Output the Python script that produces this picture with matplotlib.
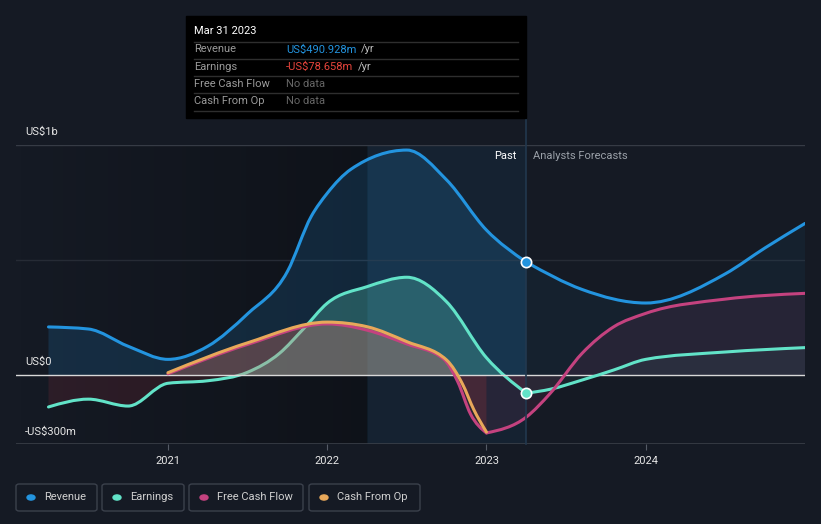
import matplotlib
matplotlib.use("Agg")
import matplotlib.pyplot as plt
import numpy as np
from matplotlib.patches import FancyBboxPatch, Rectangle, Circle, PathPatch
from matplotlib.path import Path
from matplotlib.lines import Line2D

plt.rcParams["font.family"] = ["Roboto", "DejaVu Sans"]

# ---- data (US$ millions) ----
rev_past_x = [2020.25, 2020.5, 2020.75, 2021.0, 2021.25, 2021.5, 2021.75, 2021.9, 2022.0,
              2022.15, 2022.5, 2022.75, 2023.0, 2023.25]
rev_past_y = [209, 200, 125, 68, 125, 266, 450, 690, 790,
              895, 978, 848, 630, 491]
rev_fc_x = [2023.25, 2023.6, 2024.0, 2024.5, 2024.75, 2025.0]
rev_fc_y = [491, 372, 313, 440, 553, 659]

earn_past_x = [2020.25, 2020.5, 2020.75, 2021.0, 2021.25, 2021.5, 2021.7, 2021.85, 2022.0,
               2022.25, 2022.5, 2022.75, 2023.0, 2023.25]
earn_past_y = [-139, -105, -135, -36, -25, 12, 94, 200, 312,
               384, 425, 318, 75, -79]
earn_fc_x = [2023.25, 2023.4, 2023.6, 2023.8, 2024.0, 2024.5, 2025.0]
earn_fc_y = [-79, -62, -22, 22, 68, 100, 119]

cfo_past_x = [2021.0, 2021.5, 2022.0, 2022.25, 2022.5, 2022.75, 2022.85, 2022.92, 2023.0]
cfo_past_y = [10, 140, 230, 210, 145, 65, -40, -150, -248]

fcf_past_x = [2021.0, 2021.5, 2022.0, 2022.25, 2022.5, 2022.73, 2022.82, 2022.9, 2023.0]
fcf_past_y = [5, 133, 222, 195, 135, 70, -30, -170, -252]
fcf_fc_x = [2023.0, 2023.25, 2023.4, 2023.6, 2023.8, 2024.0, 2024.5, 2025.0]
fcf_fc_y = [-252, -183, -80, 94, 210, 268, 330, 355]

x_ticks = [2021, 2022, 2023, 2024]
y_labels = ["US$1b", "US$0", "-US$300m"]
legend_items = ["Revenue", "Earnings", "Free Cash Flow", "Cash From Op"]

C_REV = "#2394df"
C_EARN = "#62e3c8"
C_FCF = "#c4427f"
C_CFO = "#e8a85a"
C_NEG = "#e0404f"
BG = "#151a24"

W, H = 821, 524
fig = plt.figure(figsize=(W / 100, H / 100), dpi=100, facecolor=BG)


def fx(px):
    return px / W


def fy(py):
    return 1 - py / H


def tangents(x, y):
    # monotone-x slopes, like d3.curveMonotoneX
    x, y = np.asarray(x, float), np.asarray(y, float)
    n = len(x)
    h = np.diff(x)
    s = np.diff(y) / h
    t = np.zeros(n)
    for i in range(1, n - 1):
        p = (s[i - 1] * h[i] + s[i] * h[i - 1]) / (h[i - 1] + h[i])
        t[i] = (np.sign(s[i - 1]) + np.sign(s[i])) * min(abs(s[i - 1]), abs(s[i]), 0.5 * abs(p))
    t[0] = (3 * s[0] - t[1]) / 2 if n > 2 else s[0]
    t[-1] = (3 * s[-1] - t[-2]) / 2 if n > 2 else s[-1]
    return t


def curve_verts(x, y):
    t = tangents(x, y)
    verts = [(x[0], y[0])]
    codes = [Path.MOVETO]
    for i in range(len(x) - 1):
        d = (x[i + 1] - x[i]) / 3
        verts += [(x[i] + d, y[i] + d * t[i]), (x[i + 1] - d, y[i + 1] - d * t[i + 1]), (x[i + 1], y[i + 1])]
        codes += [Path.CURVE4] * 3
    return verts, codes


def draw_line(x, y, color, z):
    v, c = curve_verts(x, y)
    ax.add_patch(PathPatch(Path(v, c), fill=False, edgecolor=color, lw=2.2, zorder=z,
                           capstyle="round", joinstyle="round"))


def draw_fill(x, y, color, alpha, z, sign=0):
    v, c = curve_verts(x, y)
    v = v + [(x[-1], 0), (x[0], 0), (x[0], y[0])]
    c = c + [Path.LINETO, Path.LINETO, Path.CLOSEPOLY]
    patch = PathPatch(Path(v, c), facecolor=color, alpha=alpha, lw=0, zorder=z)
    ax.add_patch(patch)
    if sign:
        lo, hi = (0, 2000) if sign > 0 else (-2000, 0)
        clip = Rectangle((2019, lo), 10, hi - lo, transform=ax.transData)
        patch.set_clip_path(clip)


ax = fig.add_axes([fx(16), fy(444), fx(805) - fx(16), fy(145) - fy(444)])
ax.set_facecolor(BG)
x0, x1 = 2020.046, 2025.0
ax.set_xlim(x0, x1)
ax.set_ylim(-300, 1000)
for s in ax.spines.values():
    s.set_visible(False)

# darker past region, gradient towards the hovered year
grad = np.linspace(0, 1, 256).reshape(1, -1)
ax.imshow(grad, extent=[x0, 2022.25, -300, 1000], aspect="auto",
          cmap=matplotlib.colors.LinearSegmentedColormap.from_list("g", [(0, 0, 0, 0.0), (0, 0, 0, 0.3)]),
          zorder=0.5)
ax.axvspan(2022.25, 2023.25, color=C_REV, alpha=0.07, lw=0, zorder=0.6)

# grid
ax.axhline(1000, color="#363b45", lw=1, zorder=1)
ax.axhline(500, color="#262b35", lw=1, zorder=1)
ax.axhline(-300, color="#3a3f48", lw=1.2, zorder=1)

# fills
draw_fill(rev_past_x, rev_past_y, C_REV, 0.17, 2)
draw_fill(rev_fc_x, rev_fc_y, C_REV, 0.06, 2)
draw_fill(earn_past_x, earn_past_y, C_EARN, 0.25, 2, sign=1)
draw_fill(earn_past_x, earn_past_y, C_NEG, 0.12, 2, sign=-1)
draw_fill(earn_fc_x, earn_fc_y, C_EARN, 0.06, 2)
draw_fill(fcf_fc_x, fcf_fc_y, C_FCF, 0.1, 2)

draw_line(rev_past_x, rev_past_y, C_REV, 4)
draw_line(rev_fc_x, rev_fc_y, C_REV, 4)
draw_line(earn_past_x, earn_past_y, C_EARN, 3)
draw_line(earn_fc_x, earn_fc_y, C_EARN, 4)

draw_fill(cfo_past_x, cfo_past_y, C_CFO, 0.22, 3.2, sign=1)
draw_fill(cfo_past_x, cfo_past_y, C_NEG, 0.15, 3.2, sign=-1)
draw_fill(fcf_past_x, fcf_past_y, C_FCF, 0.15, 3.2, sign=1)
draw_fill(fcf_past_x, fcf_past_y, C_NEG, 0.1, 3.2, sign=-1)

draw_line(fcf_past_x, fcf_past_y, C_FCF, 4.1)
draw_line(cfo_past_x, cfo_past_y, C_CFO, 4.2)
draw_line(fcf_fc_x, fcf_fc_y, C_FCF, 4)

ax.axhline(0, color="#d8d8d8", lw=1, zorder=3.5)

# hover line and markers
ax.axvline(2023.25, ymin=0, ymax=(444 - 118) / 299, color="#22384e", lw=1.2, zorder=5, clip_on=False)
ax.scatter([2023.25], [rev_past_y[-1]], s=55, color=C_REV, edgecolor="white", lw=1.2, zorder=6)
ax.scatter([2023.25], [earn_past_y[-1]], s=55, color=C_EARN, edgecolor="white", lw=1.2, zorder=6)

ax.text(2023.19, 952, "Past", color="white", fontsize=8, ha="right", va="center", zorder=7)
ax.text(2023.29, 952, "Analysts Forecasts", color="#9aa0a8", fontsize=8, ha="left", va="center", zorder=7)

# axis labels
ax.set_xticks(x_ticks)
ax.set_xticklabels([str(t) for t in x_ticks], color="#e6e6e6", fontsize=8)
ax.tick_params(axis="x", length=4, color="#555b66", pad=5)
ax.set_yticks([])
for lab, val in zip(y_labels, [1056, 56, -248]):
    ax.text(0.0114, val, lab, transform=ax.get_yaxis_transform(), color="#e6e6e6",
            fontsize=8, ha="left", va="center", zorder=7)

# tooltip
fig.patches.append(Rectangle((fx(186), fy(118)), fx(526) - fx(186), fy(16) - fy(118),
                             transform=fig.transFigure, color="#000000", zorder=10))
fig.text(fx(194), fy(31), "Mar 31 2023", color="white", fontsize=8, va="center", zorder=11)
for ly in [41.5, 58.5, 75.5, 92.5, 110.5]:
    fig.lines.append(Line2D([fx(194), fx(518)], [fy(ly), fy(ly)],
                            transform=fig.transFigure, color="#2e2e2e", lw=1, zorder=11))
rows = [("Revenue", "US$490.928m", C_REV, "/yr"),
        ("Earnings", "-US$78.658m", "#e8453c", "/yr"),
        ("Free Cash Flow", "No data", "#666666", ""),
        ("Cash From Op", "No data", "#666666", "")]
renderer = fig.canvas.get_renderer()
for i, (lab, val, col, unit) in enumerate(rows):
    yy = fy(49.5 + 17.3 * i)
    fig.text(fx(194), yy, lab, color="#9a9a9a", fontsize=8, va="center", zorder=11)
    t = fig.text(fx(286), yy, val, color=col, fontsize=8, va="center", zorder=11)
    if unit:
        right = t.get_window_extent(renderer).x1
        fig.text((right + 5) / W, yy, unit, color="#bdbdbd", fontsize=8, va="center", zorder=11)

# legend
boxes = [(16, 97), (102, 184), (189, 303), (309, 420)]
colors = [C_REV, C_EARN, C_FCF, C_CFO]
for (bl, br), lab, col in zip(boxes, legend_items, colors):
    fig.patches.append(FancyBboxPatch((fx(bl), fy(511)), fx(br) - fx(bl), fy(484) - fy(511),
                                      boxstyle="round,pad=0,rounding_size=0.004",
                                      transform=fig.transFigure, facecolor="none",
                                      edgecolor="#3b414c", lw=1, zorder=10))
    fig.patches.append(Circle((fx(bl + 15), fy(497.5)), radius=fx(4),
                              transform=fig.transFigure, color=col, zorder=11))
    fig.text(fx(bl + 28), fy(497.5), lab, color="#d0d0d0", fontsize=8, va="center", zorder=11)

fig.savefig("out.png", dpi=100, facecolor=BG)
